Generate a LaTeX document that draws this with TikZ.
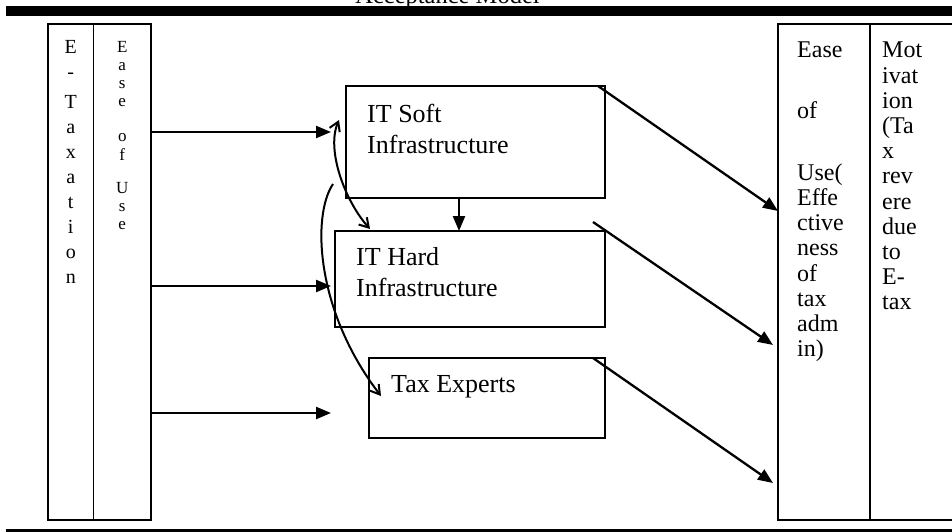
\documentclass[tikz,border=0pt]{standalone}
\usepackage{fontspec}
\setmainfont{Liberation Serif}
\usetikzlibrary{arrows.meta,positioning}

\begin{document}
\begin{tikzpicture}[x=1pt ,y=-1pt ,
>={Triangle[length=15pt,width=12pt]} ,
box/.style ={draw ,line width=1.5pt ,inner sep=0pt ,outer sep=0pt},
colbox/.style ={box ,minimum width=#1 ,minimum height=496pt},
arr/.style ={-> ,line width=2.3pt},
swing/.style ={line width=2pt ,
  {Straight Barb[length=9pt,width=11pt]}-{Straight Barb[length=9pt,width=11pt]}},
swingend/.style ={line width=2pt ,-{Straight Barb[length=9pt,width=11pt]}},
boxtext/.style ={font=\fontsize{26}{31}\selectfont ,align=left ,inner sep=0pt}]
\useasboundingbox (0,0) rectangle (952,532);
\clip (0,0) rectangle (952,532);

% heading strip and bottom rule
\node[font=\fontsize{24.5}{28}\selectfont ,anchor=base] (title) at (447.5,4) {Acceptance Model};
\fill (6,6) rectangle (952,16.5);
\fill (6,529.3) rectangle (952,533);

% side columns
\node[colbox=45.5pt] (etax) at (70.75,272) {};
\node[colbox=57.5pt ,right=0pt of etax] (easeuse) {};
\node[colbox=92pt] (easeadm) at (824,272) {};
\node[colbox=130pt ,right=0pt of easeadm] (motiv) {};

\node[font=\fontsize{20}{25}\selectfont ,align=center ,inner sep=0pt ,anchor=north ,
below=16.6pt of etax.north] (etaxtext) {E\\-\\[5pt]T\\a\\x\\a\\t\\i\\o\\n};
\node[font=\fontsize{17}{18.2}\selectfont ,align=center ,inner sep=0pt ,
below=16.8pt of easeuse.north] (easeusetext) {E\\a\\s\\e\\[17pt]o\\f\\[15pt]U\\s\\e};
\node[font=\fontsize{24}{25.2}\selectfont ,align=left ,inner sep=0pt ,
below right=18pt and 19pt of easeadm.north west] (easeadmtext)
{Ease\\[35pt]of\\[37pt]Use(\\Effe\\ctive\\ness\\of\\tax\\adm\\in)};
\node[font=\fontsize{24}{25.2}\selectfont ,align=left ,inner sep=0pt ,
below right=18pt and 12pt of motiv.north west] (motivtext)
{Mot\\ivat\\ion\\(Ta\\x\\rev\\ere\\due\\to\\E-\\tax};

% middle boxes
\node[box ,minimum width=259pt ,minimum height=112pt] (soft) at (475.5,142) {};
\node[box ,minimum width=270pt ,minimum height=96pt] (hard) at (470,279) {};
\node[box ,minimum width=236pt ,minimum height=80pt] (tax) at (487,398) {};
\node[boxtext ,below right=17.5pt and 21pt of soft.north west] (softtext) {IT Soft\\Infrastructure};
\node[boxtext ,below right=16.5pt and 21pt of hard.north west] (hardtext) {IT Hard\\Infrastructure};
\node[boxtext ,below right=17.5pt and 22pt of tax.north west] (taxtext) {Tax Experts};

% inputs from the left
\foreach \y/\n in {132/one ,286/two ,413/three}
  \coordinate (in\n) at (331,\y);
\foreach \n in {one ,two ,three}
  \draw[arr] (easeuse.east |- in\n) -- (in\n);

\draw[arr] ([xshift=-16.5pt]soft.south) -- ([xshift=-16.5pt]soft.south |- hard.north);

% outputs to the right
\draw[arr] ([xshift=-7pt]soft.north east) -- ([yshift=61pt]easeadm.west);
\draw[arr] ([xshift=-12pt ,yshift=9pt]hard.north east) -- ([xshift=-5pt ,yshift=-73pt]easeadm.west);
\draw[arr] ([xshift=-12pt]tax.north east) -- ([xshift=-5pt ,yshift=-211pt]easeadm.west);

% curved links
\draw[swing] ([shift={(-7,-22)}]soft.west) .. controls +(-13,30) and +(-25,-28) ..
  ([xshift=35pt ,yshift=2pt]hard.north west);
\coordinate (loopstart) at (333,184);
\draw[swingend] (loopstart) .. controls (312,215) and (315,310) .. ([shift={(12,38)}]tax.north west);

\end{tikzpicture}
\end{document}
